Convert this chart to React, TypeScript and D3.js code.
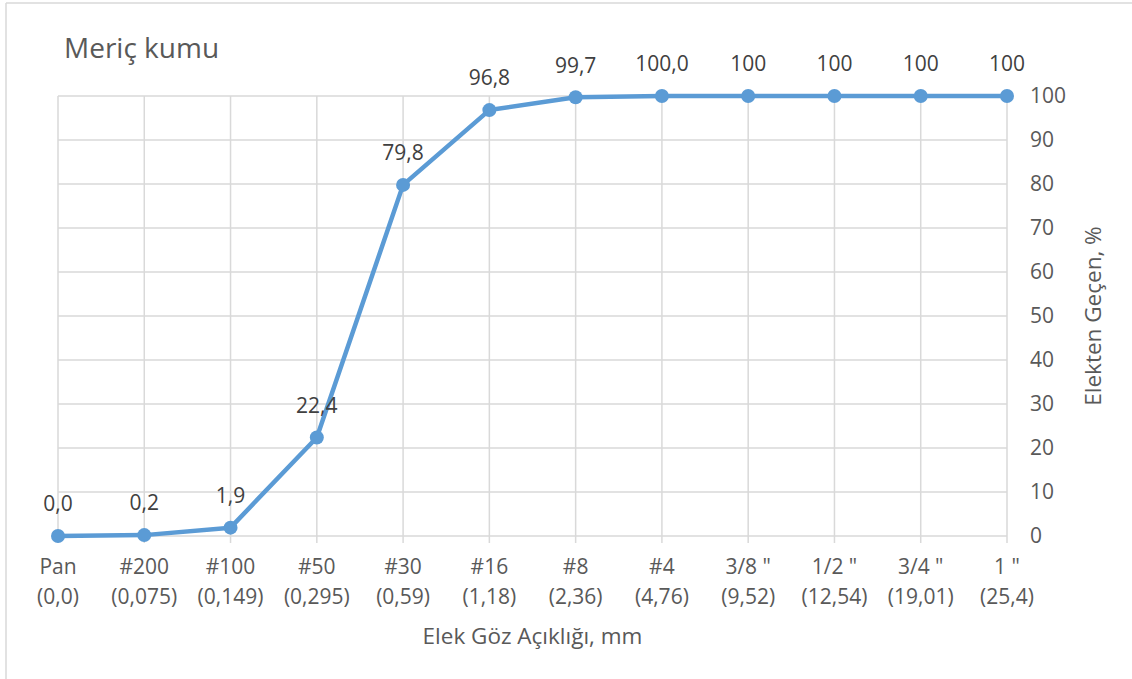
import React from "react";
import * as d3 from "d3";

const title = "Meriç kumu";
const sieveNames = ["Pan", "#200", "#100", "#50", "#30", "#16", "#8", "#4", "3/8 \"", "1/2 \"", "3/4 \"", "1 \""];
const sieveSizes = ["(0,0)", "(0,075)", "(0,149)", "(0,295)", "(0,59)", "(1,18)", "(2,36)", "(4,76)", "(9,52)", "(12,54)", "(19,01)", "(25,4)"];
const passing = [0.0, 0.2, 1.9, 22.4, 79.8, 96.8, 99.7, 100.0, 100, 100, 100, 100];
const passingLabels = ["0,0", "0,2", "1,9", "22,4", "79,8", "96,8", "99,7", "100,0", "100", "100", "100", "100"];
const yTicks = [0, 10, 20, 30, 40, 50, 60, 70, 80, 90, 100];
const xTitle = "Elek Göz Açıklığı, mm";
const yTitle = "Elekten Geçen, %";

const W = 1132;
const H = 679;
const FONT = "'Open Sans', sans-serif";

export default function App() {
  const x = d3.scalePoint<number>().domain(d3.range(sieveNames.length)).range([58, 1007]);
  const y = d3.scaleLinear().domain([0, 100]).range([536, 96]);
  const line = d3
    .line<number>()
    .x((_, i) => x(i)!)
    .y((d) => y(d));
  const grid = "#d9d9d9";
  const color = "#5b9bd5";
  const top = y(100);
  const bottom = y(0);
  const left = x(0)!;
  const right = x(sieveNames.length - 1)!;
  return (
    <svg width={W} height={H} style={{ position: "absolute", left: 0, top: 0 }} fontFamily={FONT}>
      <rect x={0} y={0} width={W} height={H} fill="#fff" />
      <line x1={6} y1={3} x2={6} y2={H} stroke="#d9d9d9" strokeWidth={1.5} />
      <line x1={6} y1={3} x2={W} y2={3} stroke="#d9d9d9" strokeWidth={1.5} />
      <text x={64} y={58} fontSize={28} fill="#595959">{title}</text>
      {yTicks.map((t) => (
        <line key={"h" + t} x1={left} x2={right} y1={y(t)} y2={y(t)} stroke={grid} strokeWidth={1.5} />
      ))}
      {sieveNames.map((_, i) => (
        <line key={"v" + i} x1={x(i)} x2={x(i)} y1={top} y2={bottom + 7} stroke={grid} strokeWidth={1.5} />
      ))}
      {yTicks.map((t) => (
        <text key={"yt" + t} x={1030} y={y(t)} dy="0.35em" fontSize={21} fill="#595959">{t}</text>
      ))}
      {sieveNames.map((n, i) => (
        <g key={"xl" + i} fontSize={21} fill="#595959" textAnchor="middle">
          <text x={x(i)} y={567} dy="0.35em">{n}</text>
          <text x={x(i)} y={597} dy="0.35em">{sieveSizes[i]}</text>
        </g>
      ))}
      <text x={(left + right) / 2} y={636} dy="0.35em" fontSize={22.5} fill="#595959" textAnchor="middle">{xTitle}</text>
      <text transform={`translate(1093,${(top + bottom) / 2}) rotate(-90)`} dy="0.35em" fontSize={22.5} fill="#595959" textAnchor="middle">{yTitle}</text>
      <path d={line(passing)!} fill="none" stroke={color} strokeWidth={4.5} strokeLinejoin="round" />
      {passing.map((v, i) => (
        <circle key={"p" + i} cx={x(i)} cy={y(v)} r={7} fill={color} />
      ))}
      {passing.map((v, i) => (
        <text key={"l" + i} x={x(i)} y={y(v) - 32} dy="0.35em" fontSize={21} fill="#404040" textAnchor="middle">{passingLabels[i]}</text>
      ))}
    </svg>
  );
}
